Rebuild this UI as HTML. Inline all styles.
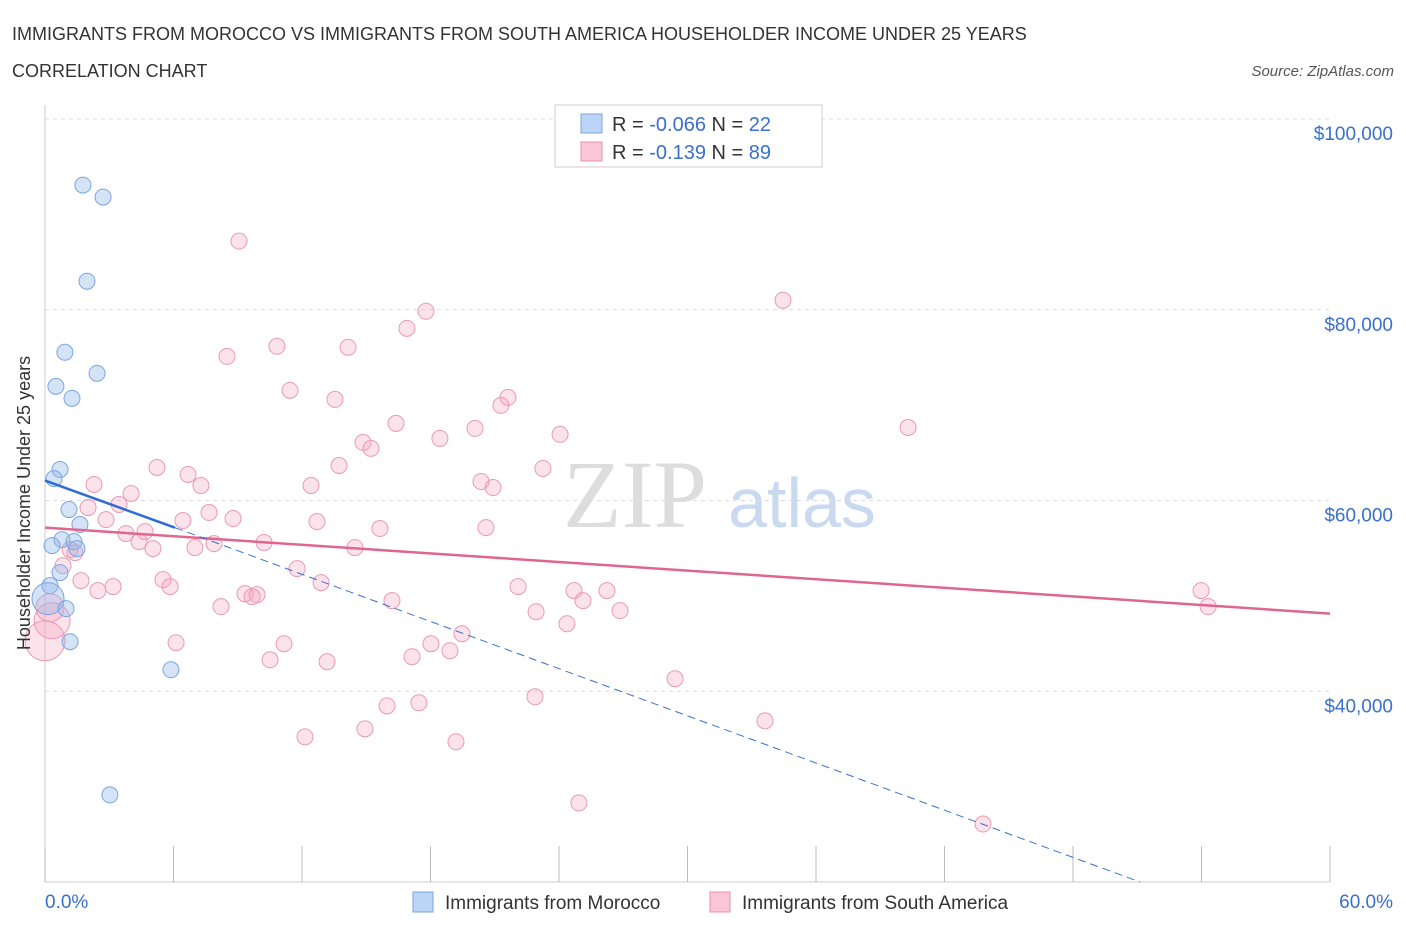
<!DOCTYPE html>
<html><head><meta charset="utf-8"><style>
body{margin:0;background:#fff;font-family:"Liberation Sans",sans-serif;}
</style></head><body>
<svg width="1406" height="930" xmlns="http://www.w3.org/2000/svg">
<text x="12" y="40" font-size="18" fill="#333">IMMIGRANTS FROM MOROCCO VS IMMIGRANTS FROM SOUTH AMERICA HOUSEHOLDER INCOME UNDER 25 YEARS</text>
<text x="12" y="77" font-size="18" fill="#333">CORRELATION CHART</text>
<text x="1394" y="76" font-size="15" fill="#555" font-style="italic" text-anchor="end">Source: ZipAtlas.com</text>
<g>
<text x="635" y="527" font-size="96" fill="#ddd" font-family="Liberation Serif,serif" text-anchor="middle">ZIP</text>
<text x="802" y="527" font-size="70" fill="#c9daf0" text-anchor="middle">atlas</text>
</g>
<g id="grid"></g>
<g id="axes"></g>
<g id="marks"></g>
<g>
<rect x="555" y="105" width="267" height="62" fill="#fff" stroke="#ccc"/>
<rect x="581" y="114" width="21" height="19" fill="#bcd4f5" stroke="#7aa6e0"/>
<text x="612" y="131" font-size="20" fill="#333">R = <tspan fill="#3a6fd0">-0.066</tspan>   N = <tspan fill="#3a6fd0">22</tspan></text>
<rect x="581" y="142" width="21" height="19" fill="#f9c6d5" stroke="#e890ab"/>
<text x="612" y="159" font-size="20" fill="#333">R =  <tspan fill="#3a6fd0">-0.139</tspan>   N = <tspan fill="#3a6fd0">89</tspan></text>
</g>
<g>
<rect x="413" y="892" width="20" height="20" fill="#bcd4f5" stroke="#7aa6e0"/>
<text x="445" y="909" font-size="19" fill="#333">Immigrants from Morocco</text>
<rect x="710" y="892" width="20" height="20" fill="#f9c6d5" stroke="#e890ab"/>
<text x="742" y="909" font-size="19" fill="#333">Immigrants from South America</text>
</g>
<text x="22" y="495" font-size="18" fill="#333" text-anchor="middle" transform="rotate(-90 30 495)">Householder Income Under 25 years</text>
</svg>
<script>
const yTicks=[40000,60000,80000,100000];
const yTickLabels=["$40,000","$60,000","$80,000","$100,000"];
const xTickLabels=["0.0%","60.0%"];
const moroccoX=[1.77,2.71,1.96,0.93,2.43,0.51,1.26,0.70,0.42,1.12,1.63,0.79,1.35,1.49,0.33,0.70,0.23,0.14,0.98,1.17,5.88,3.03];
const moroccoY=[93070,91810,82990,75540,73330,71970,70710,63250,62300,59050,57480,55900,55690,54960,55270,52440,51070,49710,48660,45190,42250,29130];
const saX=[9.06,34.46,17.79,16.90,8.50,10.83,14.15,11.44,13.54,21.62,21.29,40.30,16.39,20.08,24.05,18.44,14.85,15.22,13.73,5.23,23.25,6.68,2.29,7.28,20.36,20.92,12.42,4.02,3.46,2.01,7.66,2.85,6.44,8.78,12.70,20.59,15.64,3.78,4.67,4.39,10.23,7.89,5.04,7.00,14.47,1.17,1.40,0.84,11.77,1.68,5.51,12.89,5.84,3.18,2.47,22.09,24.70,26.24,9.34,9.90,9.67,16.20,25.12,8.22,22.93,26.85,53.98,54.31,0.23,24.37,19.47,6.12,11.16,18.02,18.91,10.51,17.14,13.17,29.42,22.88,15.97,17.46,33.62,14.94,12.14,19.19,24.93,43.80,0.33,0.0];
const saY=[87190,80990,79840,78050,75110,76170,76060,71550,70600,70810,69970,67660,68080,67560,66930,66510,66090,65460,63670,63460,63360,62730,61680,61570,61990,61360,61570,60730,59580,59260,58740,58000,57900,58110,57790,57160,57060,56530,56740,55690,55590,55480,54960,55060,55060,54850,54540,53170,52860,51600,51700,51390,50970,50970,50550,50970,50550,50550,50230,50130,49920,49500,49500,48870,48340,48450,50550,48870,48760,47080,46030,45090,44980,44980,44250,43300,43620,43090,41310,39420,38470,38790,36900,36060,35220,34700,28290,26080,47400,45300];
const saSize=[];saSize[88]=18;saSize[89]=20;saSize[68]=14;
const moroccoSize=[];moroccoSize[17]=16;
const moroccoTrend=[[0,62090],[6.07,57150]];
const moroccoTrendExt=[[6.07,57150],[51.13,20000]];
const saTrend=[[0,57160],[60,48140]];
const NS="http://www.w3.org/2000/svg";
const X=v=>45+v/60*1285, Y=v=>882-(v-20000)/80000*763;
function mk(t,a,p){const e=document.createElementNS(NS,t);for(const k in a)e.setAttribute(k,a[k]);p.appendChild(e);return e;}
const grid=document.getElementById('grid'),axes=document.getElementById('axes'),marks=document.getElementById('marks');
yTicks.forEach((v,i)=>{
 const l=mk('line',{x1:45,x2:1330,y1:Y(v),y2:Y(v),stroke:'#ddd','stroke-dasharray':'4,4'},grid);
 
 
 const t=mk('text',{x:1393,y:Y(v)+21,'font-size':19,fill:'#3a6fd0','text-anchor':'end'},axes);
 t.textContent=yTickLabels[i];
 
 
});
mk('line',{x1:45,x2:45,y1:105,y2:882,stroke:'#ccc'},axes);
mk('line',{x1:45,x2:1330,y1:882,y2:882,stroke:'#ccc'},axes);
for(let i=0;i<=10;i++){const l=mk('line',{x1:X(i*6),x2:X(i*6),y1:846,y2:882,stroke:'#bbb'},axes);
 
 }
[[0,'start',45],[60,'end',1393]].forEach((d,i)=>{const t=mk('text',{x:d[2],y:908,'font-size':19,fill:'#3a6fd0','text-anchor':d[1]},axes);t.textContent=xTickLabels[i];
 
 });
saX.forEach((x,i)=>{const c=mk('circle',{cx:X(x),cy:Y(saY[i]),r:saSize[i]||8,fill:'rgba(244,160,188,0.3)',stroke:'#e99ab4','stroke-width':1},marks);
 
 });
moroccoX.forEach((x,i)=>{const c=mk('circle',{cx:X(x),cy:Y(moroccoY[i]),r:moroccoSize[i]||8,fill:'rgba(150,185,235,0.4)',stroke:'#7aa6e0','stroke-width':1},marks);
 
 });
function ln(p,s,w,d,n){const l=mk('line',{x1:X(p[0][0]),y1:Y(p[0][1]),x2:X(p[1][0]),y2:Y(p[1][1]),stroke:s,'stroke-width':w},marks);if(d)l.setAttribute('stroke-dasharray',d);
 
 }
ln(saTrend,'#e0668f',2.5,null,'south-america-trendline');
ln(moroccoTrendExt,'#3a6fd0',1,'8,5','morocco-trendline-extension');
ln(moroccoTrend,'#2f6bd6',2.5,null,'morocco-trendline');
</script>
</body></html>
